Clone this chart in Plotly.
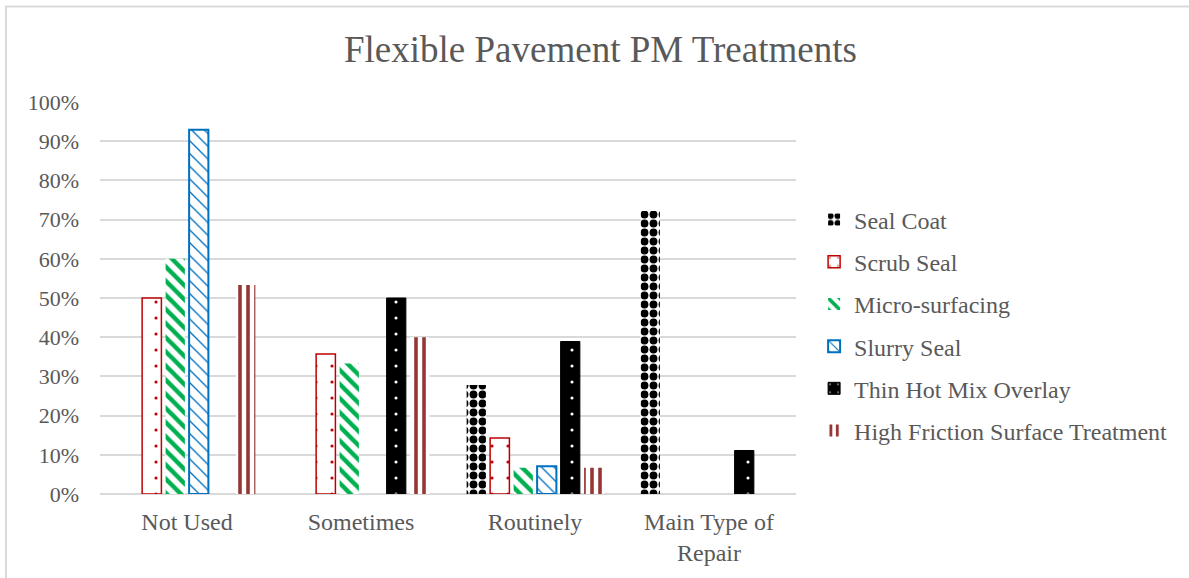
import plotly.graph_objects as go

categories = ["Not Used", "Sometimes", "Routinely", "Main Type of<br>Repair"]

# None = no bar drawn (0%)
seal_coat = [None, None, 27.8, 72.2]
scrub_seal = [50.0, 35.7, 14.3, None]
micro_surfacing = [60.0, 33.3, 6.7, None]
slurry_seal = [92.9, None, 7.1, None]
thin_hot_mix = [None, 50.0, 38.9, 11.1]
hfst = [53.3, 40.0, 6.7, None]

FONT = "Liberation Serif, Times New Roman, serif"
GREY = "#595959"

# name, values, bg, fg, shape, size, solidity, line colour, line width
series = [
    ("Seal Coat", seal_coat, "white", "black", ".", 9, 0.6, "rgba(0,0,0,0)", 0),
    ("Scrub Seal", scrub_seal, "white", "#C00000", ".", 16, 0.03, "#C00000", 1.5),
    ("Micro-surfacing", micro_surfacing, "white", "#00B050", "\\", 10, 0.45, "rgba(0,0,0,0)", 0),
    ("Slurry Seal", slurry_seal, "white", "#0070C0", "\\", 9, 0.15, "#0070C0", 2),
    ("Thin Hot Mix Overlay", thin_hot_mix, "black", "white", ".", 16, 0.03, "black", 1),
    ("High Friction Surface Treatment", hfst, "white", "#953735", "|", 8, 0.45, "rgba(0,0,0,0)", 0),
]

fig = go.Figure()
for i, (name, vals, bg, fg, shape, size, sol, lc, lw) in enumerate(series):
    fig.add_trace(go.Bar(
        x=categories, y=vals, name=name, legendgroup=f"g{i}",
        marker=dict(
            color=bg,
            line=dict(color=lc, width=lw),
            pattern=dict(shape=shape, fgcolor=fg, bgcolor=bg, size=size,
                         solidity=sol, fillmode="replace"),
        ),
    ))

fig.update_layout(
    width=1189, height=578,
    margin=dict(l=100, r=393, t=102, b=82),
    paper_bgcolor="white", plot_bgcolor="white",
    font=dict(family=FONT, color=GREY, size=24),
    title=dict(text="Flexible Pavement PM Treatments", x=0.505, xanchor="center",
               y=0.915, yanchor="middle", font=dict(size=37, color=GREY, family=FONT)),
    barmode="group", bargap=0.19, bargroupgap=0.18,
    legend=dict(x=1.026, y=0.43, yanchor="middle", xanchor="left",
                tracegroupgap=8, font=dict(size=24, color=GREY, family=FONT),
                itemwidth=30),
    showlegend=True,
)
fig.update_yaxes(range=[0, 100], dtick=10, ticksuffix="%", showgrid=True,
                 gridcolor="#d9d9d9", gridwidth=1.5, zeroline=True,
                 zerolinecolor="#d9d9d9", zerolinewidth=1.5, showline=False,
                 ticklabelstandoff=20, tickfont=dict(size=22, color=GREY))
fig.update_xaxes(showline=False, showgrid=False, tickfont=dict(size=24, color=GREY),
                 ticklabelstandoff=11)

# chart border
fig.add_shape(type="rect", xref="paper", yref="paper",
              x0=(6 - 100) / 696, x1=(1220 - 100) / 696,
              y0=(496 - 620) / 394, y1=(496 - 6) / 394,
              line=dict(color="#d9d9d9", width=2), layer="below")

fig.write_html("out.html", config={"displayModeBar": False},
               post_script="document.body.style.margin='0';")
